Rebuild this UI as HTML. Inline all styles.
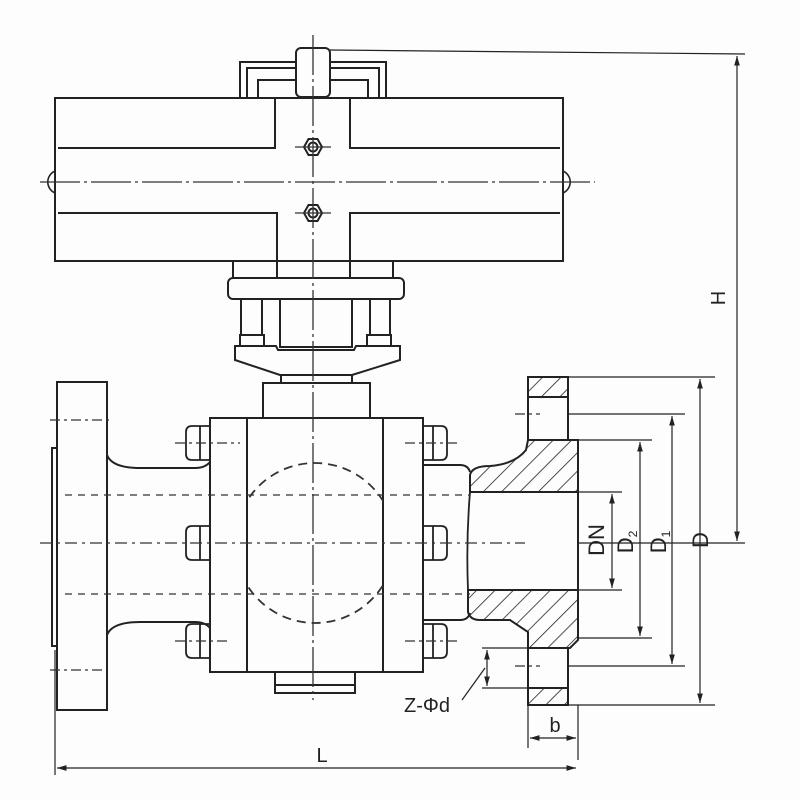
<!DOCTYPE html>
<html><head><meta charset="utf-8"><style>html,body{margin:0;padding:0;background:#fff}svg{display:block}</style></head>
<body>
<svg width="800" height="800" viewBox="0 0 800 800" xmlns="http://www.w3.org/2000/svg" font-family="Liberation Sans, sans-serif">
<defs>
<pattern id="h" width="13" height="13" patternUnits="userSpaceOnUse" patternTransform="rotate(45)">
<line x1="0" y1="0" x2="0" y2="13" stroke="#222" stroke-width="1.6"/></pattern>
<marker id="a" viewBox="0 0 10 10" refX="10" refY="5" markerWidth="8" markerHeight="8" orient="auto-start-reverse"><path d="M0,2 L10,5 L0,8 z" fill="#222"/></marker>
<clipPath id="ball"><rect x="247" y="440" width="136" height="200"/></clipPath>
</defs>
<rect width="800" height="800" fill="#fdfdfd"/>
<g fill="none" stroke="#222" stroke-width="2">
<path d="M240,97 V62 H296 M330,62 H386 V97 M247,97 V68 H296 M330,68 H379 V97 M258,97 V80 H296 M330,80 H368 V97"/>
<rect x="296" y="48" width="34" height="49" rx="5"/>
<rect x="55" y="98" width="508" height="163"/>
<path d="M58,148 H275 V98 M350,98 V148 H560 M58,213 H277 V261 M350,261 V213 H560"/>
<path d="M55,171 A12,12 0 0 0 55,193 M563,171 A12,12 0 0 1 563,193" stroke-width="1.6"/>
<polygon points="304,147 308.5,139 317.5,139 322,147 317.5,155 308.5,155"/>
<circle cx="313" cy="147" r="4.5"/>
<polygon points="304,213 308.5,205 317.5,205 322,213 317.5,221 308.5,221"/>
<circle cx="313" cy="213" r="4.5"/>
<path d="M233,262 V278 M277,262 V278 M350,262 V278 M393,262 V278"/>
<rect x="228" y="278" width="176" height="21" rx="5"/>
<path d="M241,299 V335 M262,299 V335 M370,299 V335 M390,299 V335"/>
<rect x="240" y="335" width="24" height="11"/><rect x="367" y="335" width="24" height="11"/>
<rect x="280" y="299" width="72" height="48"/>
<path d="M235,346 H276 L278,350 H354 L356,346 H400 V360 L352,375 H280 L235,360 Z"/>
<rect x="281" y="375" width="71" height="8"/>
<rect x="263" y="383" width="107" height="35"/>
<rect x="210" y="418" width="213" height="254"/>
<path d="M247,418 V672 M383,418 V672"/>
<rect x="275" y="672" width="80" height="21"/><path d="M275,685 H355"/>
<rect x="57" y="382" width="50" height="328"/>
<path d="M57,448 H52 V646 H57"/>
<path d="M107,455 Q112,468 140,468 H195 Q205,468 210,462 M107,635 Q112,622 140,622 H195 Q205,622 210,628"/>
<g stroke-width="1.8">
<path d="M210,426 H192 Q186,426 186,432 V454 Q186,460 192,460 H210 M200,426 V460"/>
<path d="M210,526 H192 Q186,526 186,532 V554 Q186,560 192,560 H210 M200,526 V560"/>
<path d="M210,624 H192 Q186,624 186,630 V652 Q186,658 192,658 H210 M200,624 V658"/>
<path d="M423,426 H441 Q447,426 447,432 V454 Q447,460 441,460 H423 M433,426 V460"/>
<path d="M423,526 H441 Q447,526 447,532 V554 Q447,560 441,560 H423 M433,526 V560"/>
<path d="M423,624 H441 Q447,624 447,630 V652 Q447,658 441,658 H423 M433,624 V658"/>
</g>
<path d="M423,465 H460 Q468,465 470,472 M423,620 H460 Q468,620 470,613"/>
<path d="M528,440 V377 H568 V440 M528,648 V705 H568 V648 M528,397 H568 M528,688 H568"/>
<path d="M578,492 V590"/>
</g>
<g stroke="#222" stroke-width="2">
<rect x="528" y="377" width="40" height="20" fill="url(#h)"/>
<rect x="528" y="688" width="40" height="17" fill="url(#h)"/>
<path d="M470,492 V475 Q472,466 490,466 Q515,464 526,450 L528,440 H578 V492 Z" fill="url(#h)"/>
<path d="M468,590 V612 Q470,620 480,620 H510 L528,632 V648 H570 L578,640 V590 Z" fill="url(#h)"/>
<path d="M470,492 Q466,540 468,590" fill="none" stroke-width="1.8"/>
</g>
<g stroke="#333" stroke-width="1.3" fill="none">
<path d="M313,35 V700" stroke-dasharray="40,4,3,4"/>
<path d="M40,182 H595" stroke-dasharray="40,4,3,4"/>
<path d="M40,543 H525" stroke-dasharray="12,5,3,5"/>
<path d="M65,495 H470 M65,594 H470" stroke-dasharray="7,6"/>
<g clip-path="url(#ball)"><circle cx="315" cy="543" r="80" stroke-dasharray="9,6" stroke-width="1.8"/></g>
<path d="M50,420 H110 M50,670 H103 M175,443 H240 M175,641 H230 M405,443 H460 M405,641 H460 M515,414 H540 M515,666 H540" stroke-dasharray="10,4,3,4"/>
<path d="M295,147 H331 M295,213 H331"/>
</g>
<g stroke="#222" stroke-width="1.2" fill="none">
<path d="M330,50 L745,54"/>
<path d="M578,543 H745"/>
<path d="M737,56 V541" marker-start="url(#a)" marker-end="url(#a)"/>
<path d="M568,377 H715 M568,705 H715 M568,414 H685 M568,666 H685 M578,440 H652 M578,638 H652 M578,492 H622 M578,590 H622"/>
<path d="M700,379 V703" marker-start="url(#a)" marker-end="url(#a)"/>
<path d="M672,416 V664" marker-start="url(#a)" marker-end="url(#a)"/>
<path d="M640,442 V636" marker-start="url(#a)" marker-end="url(#a)"/>
<path d="M612,494 V588" marker-start="url(#a)" marker-end="url(#a)"/>
<path d="M482,648 H528 M482,688 H528"/>
<path d="M487,650 V686" marker-start="url(#a)" marker-end="url(#a)"/>
<path d="M485,668 L462,700"/>
<path d="M528,705 V748 M578,705 V760 M55,650 V775"/>
<path d="M530,738 H576" marker-start="url(#a)" marker-end="url(#a)"/>
<path d="M57,768 H576" marker-start="url(#a)" marker-end="url(#a)"/>
</g>
<g fill="#222" font-size="20">
<text x="322" y="762" text-anchor="middle">L</text>
<text x="555" y="732" text-anchor="middle">b</text>
<text x="404" y="712">Z-Φd</text>
<text transform="translate(725,298) rotate(-90)" text-anchor="middle">H</text>
<text transform="translate(604,540) rotate(-90)" text-anchor="middle" font-size="22">DN</text>
<text transform="translate(633,542) rotate(-90)" text-anchor="middle" font-size="22">D<tspan font-size="12" dy="4">2</tspan></text>
<text transform="translate(666,542) rotate(-90)" text-anchor="middle" font-size="22">D<tspan font-size="12" dy="4">1</tspan></text>
<text transform="translate(708,540) rotate(-90)" text-anchor="middle" font-size="22">D</text>
</g>
</svg>
</body></html>
